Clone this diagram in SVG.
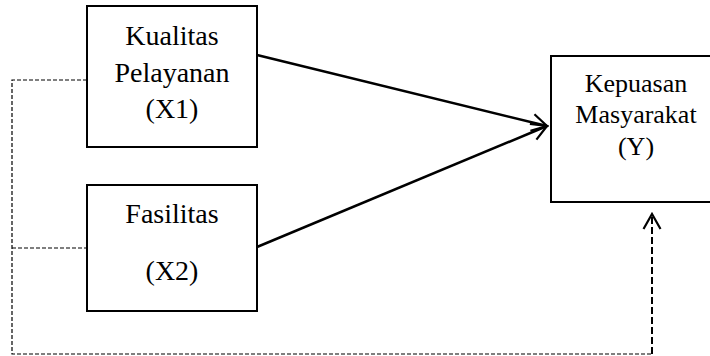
<svg xmlns="http://www.w3.org/2000/svg" width="710" height="356" viewBox="0 0 710 356">
<defs>
<style>
.box{fill:#fff;stroke:#000;stroke-width:2}
.t{fill:#000;text-anchor:middle}
.solid{fill:none;stroke:#000;stroke-width:2.5}
.thin{fill:none;stroke:#000;stroke-width:1.2;stroke-dasharray:4 2}
.thick{fill:none;stroke:#000;stroke-width:2;stroke-dasharray:7 3}
</style>
<marker id="arr" viewBox="0 0 20 20" refX="18" refY="10" markerWidth="20" markerHeight="20" markerUnits="userSpaceOnUse" orient="auto">
<path d="M3,1.5 L18,10 L3,18.5" fill="none" stroke="#000" stroke-width="2.2"/>
</marker>
</defs>
<g id="connectors">
<line class="solid" x1="257" y1="55" x2="547" y2="126" marker-end="url(#arr)"/>
<line class="solid" x1="257" y1="247" x2="547" y2="126" marker-end="url(#arr)"/>
<polyline class="thin" points="87,80 12,80 12,354 652,354"/>
<line class="thin" x1="12" y1="248" x2="87" y2="248"/>
<line class="thick" x1="652" y1="354" x2="652" y2="214" marker-end="url(#arr)"/>
</g>
<g id="x1" font-family="'Liberation Serif', 'Times New Roman', serif" font-size="28">
<rect class="box" x="87" y="6" width="170" height="141"/>
<text class="t" x="172" y="45">Kualitas</text>
<text class="t" x="172" y="82">Pelayanan</text>
<text class="t" x="172" y="118">(X1)</text>
</g>
<g id="x2" font-family="'Liberation Serif', 'Times New Roman', serif" font-size="28">
<rect class="box" x="87" y="185" width="170" height="126"/>
<text class="t" x="172" y="223">Fasilitas</text>
<text class="t" x="172" y="280">(X2)</text>
</g>
<g id="y" font-family="'Liberation Serif', 'Times New Roman', serif" font-size="26">
<rect class="box" x="551" y="56" width="170" height="146"/>
<text class="t" x="636" y="92">Kepuasan</text>
<text class="t" x="636" y="123">Masyarakat</text>
<text class="t" x="636" y="155">(Y)</text>
</g>
</svg>
